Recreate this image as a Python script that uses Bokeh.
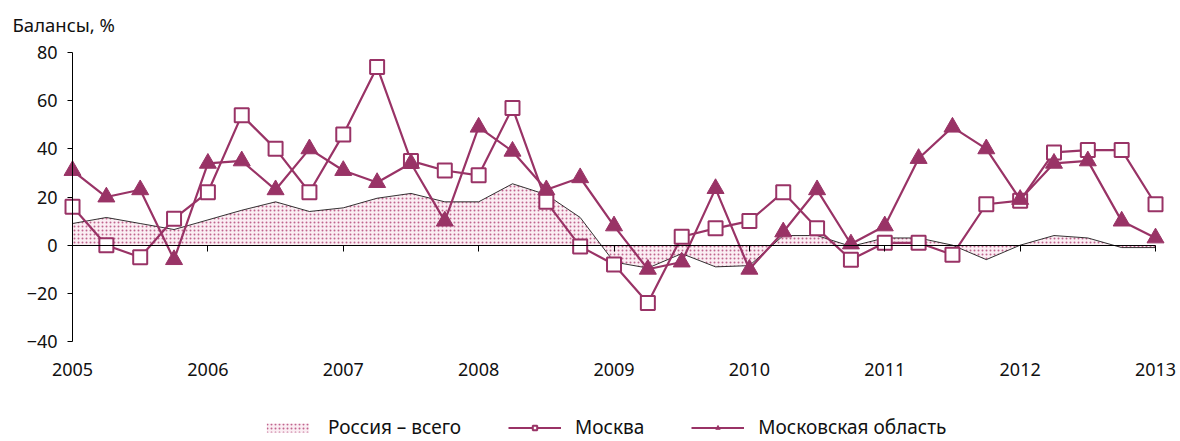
from bokeh.plotting import figure
from bokeh.models import Range1d, LinearAxis, FixedTicker, Legend, LegendItem, Label
from bokeh.embed import file_html
from bokeh.resources import INLINE

# ---- data (quarterly, 2005Q1 .. 2013Q1) ----
quarters = list(range(33))
years = [2005, 2006, 2007, 2008, 2009, 2010, 2011, 2012, 2013]
year_pos = [0, 4, 8, 12, 16, 20, 24, 28, 32]
russia = [9, 11.5, 9, 6.5, 10.5, 14.5, 18, 14, 15.5, 19.5, 21.5, 18, 18, 25.5, 21, 11.5,
          -7, -9.5, -3.5, -9, -8.5, 4, 4, -0.5, 3, 3, 0, -6, 0, 4, 3, -1, -1]
moscow = [16, 0, -5, 11, 22, 54, 40, 22, 46, 74, 35, 31, 29, 57, 18, -0.5,
          -8, -24, 3.5, 7, 10, 22, 7, -6, 1, 1, -4, 17, 18.5, 38.5, 39.5, 39.5, 17]
oblast = [31, 20, 23, -6, 34, 35, 23, 40, 31, 26, 34, 10, 49, 39, 23, 28,
          8, -10, -7, 23.5, -10, 5.5, 23, 0.5, 8, 36, 49, 40, 19, 34, 35, 10, 3]
y_ticks = [-40, -20, 0, 20, 40, 60, 80]
labels = ["Россия – всего", "Москва", "Московская область"]
title_text = "Балансы, %"

PLUM = "#993366"
FONT = "Noto Sans"
W, H = 1176, 440

# the frame covers the whole canvas; axes are placed at fixed data locations
p = figure(width=W, height=H, output_backend="svg", toolbar_location=None,
           x_range=Range1d(-2.128, 32.62), y_range=Range1d(-81.1, 101.6),
           x_axis_location=None, y_axis_location=None,
           min_border_left=0, min_border_right=0, min_border_top=0, min_border_bottom=0)
p.outline_line_color = None
p.grid.visible = False
p.background_fill_color = "white"

# area: Russia total
area = p.varea(x=quarters, y1=0, y2=russia, fill_color="#fbeef3",
               hatch_pattern=".", hatch_color="#c0648e", hatch_scale=4, hatch_weight=1)
p.line(x=quarters, y=russia, line_color="black", line_width=0.8)

# Moscow
l1 = p.line(x=quarters, y=moscow, line_color=PLUM, line_width=2.2)
s1 = p.scatter(x=quarters, y=moscow, marker="square", size=14, fill_color="white",
               line_color=PLUM, line_width=2)
# Moscow oblast
l2 = p.line(x=quarters, y=oblast, line_color=PLUM, line_width=2.2)
s2 = p.scatter(x=quarters, y=oblast, marker="triangle", size=17, fill_color=PLUM,
               line_color=PLUM, line_width=1)

# y axis at x = 0
ya = LinearAxis(fixed_location=0, bounds=(y_ticks[0], y_ticks[-1]),
                ticker=FixedTicker(ticks=y_ticks))
ya.major_tick_in = 0
ya.major_tick_out = 5
ya.minor_tick_line_color = None
ya.axis_line_color = "black"
ya.major_tick_line_color = "black"
ya.major_label_standoff = 10
ya.major_label_text_font = FONT
ya.major_label_text_font_size = "18px"
ya.major_label_text_color = "#111111"
p.add_layout(ya, "left")

# x axis on the zero line, labels at the bottom of the chart
xa = LinearAxis(fixed_location=0, bounds=(year_pos[0], year_pos[-1]),
                ticker=FixedTicker(ticks=year_pos))
xa.major_label_overrides = {pos: str(y) for pos, y in zip(year_pos, years)}
xa.major_tick_in = 0
xa.major_tick_out = 6
xa.minor_tick_line_color = None
xa.axis_line_color = "black"
xa.major_tick_line_color = "black"
xa.major_label_standoff = 112
xa.major_label_text_font = FONT
xa.major_label_text_font_size = "18px"
xa.major_label_text_color = "#111111"
p.add_layout(xa, "below")

# title
p.add_layout(Label(x=12, y=H - 24, x_units="screen", y_units="screen", text=title_text,
                   text_font=FONT, text_font_size="18.5px", text_color="#111111",
                   text_baseline="middle", text_align="left"))

legend = Legend(items=[LegendItem(label=labels[0], renderers=[area]),
                       LegendItem(label=labels[1], renderers=[l1, s1]),
                       LegendItem(label=labels[2], renderers=[l2, s2])],
                orientation="horizontal", location=(261, 0))
legend.border_line_color = None
legend.background_fill_alpha = 0
legend.label_text_font = FONT
legend.label_text_font_size = "19px"
legend.label_text_color = "#111111"
legend.label_height = 18
legend.glyph_width = 53
legend.glyph_height = 11
legend.label_standoff = 14
legend.spacing = 47
legend.padding = 0
legend.margin = 0
p.add_layout(legend, "center")

open("out.html", "w").write(file_html(p, INLINE))
